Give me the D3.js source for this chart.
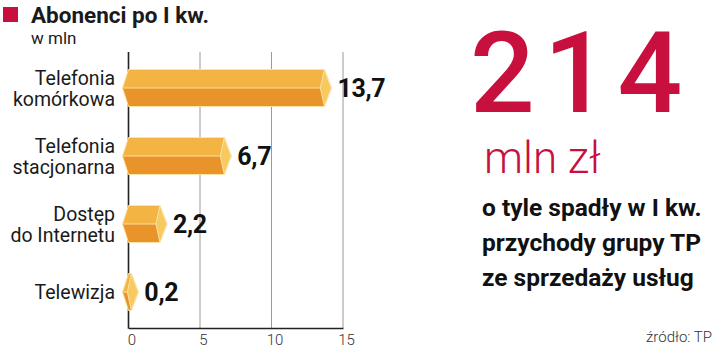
<!DOCTYPE html>
<html lang="pl">
<head>
<meta charset="UTF-8">
<title>Abonenci po I kw.</title>
<script src="https://d3js.org/d3.v7.min.js"></script>
<style>
    body { margin: 0; background: #fff; }
    svg { display: block; font-family: Roboto, "Noto Sans", sans-serif; }
</style>
</head>
<body>
<svg id="chart"></svg>
<script>
// data
var categories = ["Telefonia\nkomórkowa", "Telefonia\nstacjonarna", "Dostęp\ndo Internetu", "Telewizja"];
var values = [13.7, 6.7, 2.2, 0.2];
var valueLabels = ["13,7", "6,7", "2,2", "0,2"];
var tickValues = [0, 5, 10, 15];

var red = "#c8103e";
var W = 720, H = 351;

var svg = d3.select("#chart").attr("width", W).attr("height", H);

// title block
svg.append("rect").attr("x", 3).attr("y", 7).attr("width", 15).attr("height", 15).attr("fill", red);
svg.append("text").attr("x", 31).attr("y", 23)
    .attr("font-size", 22.5).attr("font-weight", 700).attr("fill", "#1a1a1a")
    .text("Abonenci po I kw.");
svg.append("text").attr("x", 31).attr("y", 44)
    .attr("font-size", 17).attr("fill", "#1a1a1a")
    .text("w mln");

// scales
var x = d3.scaleLinear().domain([0, 15]).range([128.5, 343]);
var y = d3.scaleBand().domain(categories).range([54, 326])
    .paddingInner(0.456).paddingOuter(0.228);

var top0 = 52, bottom0 = 328;

// grid lines
svg.append("g").selectAll("line")
    .data(tickValues.slice(1))
    .enter().append("line")
    .attr("x1", d => x(d)).attr("x2", d => x(d))
    .attr("y1", top0).attr("y2", bottom0)
    .attr("stroke", "#9a9a9a").attr("stroke-width", 1);

// bottom axis
var xAxis = svg.append("g")
    .attr("transform", "translate(0," + bottom0 + ")")
    .call(d3.axisBottom(x).tickValues(tickValues).tickSize(0).tickPadding(6));
xAxis.select(".domain").attr("stroke", "#222").attr("stroke-width", 1.5);
xAxis.selectAll("text")
    .attr("font-size", 15).attr("font-weight", 300).attr("fill", "#333")
    .attr("font-family", "Roboto, sans-serif")
    .attr("dx", 3);

// vertical axis line
svg.append("line")
    .attr("x1", x(0)).attr("x2", x(0))
    .attr("y1", top0).attr("y2", bottom0 + 0.75)
    .attr("stroke", "#222").attr("stroke-width", 1.6);

// bars
var bars = svg.append("g").selectAll("g")
    .data(categories)
    .enter().append("g");

var bw = y.bandwidth();
bars.each(function(c, i) {
    var g = d3.select(this);
    var t = y(c), b = t + bw, m = t + bw / 2;
    var x0 = x(0), xv = x(values[i]);
    // upper face
    g.append("path")
        .attr("d", "M" + (x0 - 6) + "," + m + "L" + x0 + "," + t + "L" + xv + "," + t + "L" + xv + "," + m + "Z")
        .attr("fill", "#f3b443");
    // lower face
    g.append("path")
        .attr("d", "M" + (x0 - 6) + "," + m + "L" + xv + "," + m + "L" + xv + "," + b + "L" + x0 + "," + b + "Z")
        .attr("fill", "#e8942a");
    // middle highlight
    g.append("line")
        .attr("x1", x0 - 5).attr("x2", xv).attr("y1", m).attr("y2", m)
        .attr("stroke", "#fbe0a0").attr("stroke-width", 1.2);
    // end cap
    g.append("path")
        .attr("d", "M" + xv + "," + t + "L" + (xv + 7) + "," + m + "L" + xv + "," + b + "L" + (xv - 4) + "," + m + "Z")
        .attr("fill", "#f7c95e").attr("stroke", "#fbe3a6").attr("stroke-width", 1);
    // outline
    g.append("path")
        .attr("d", "M" + (x0 - 6) + "," + m + "L" + x0 + "," + t + "L" + xv + "," + t + "L" + (xv + 7) + "," + m + "L" + xv + "," + b + "L" + x0 + "," + b + "Z")
        .attr("fill", "none").attr("stroke", "#fbe3a6").attr("stroke-width", 1);
});

// value labels
svg.append("g").selectAll("text")
    .data(categories)
    .enter().append("text")
    .attr("x", (d, i) => x(values[i]) + 13)
    .attr("y", d => y(d) + bw / 2 + 9)
    .attr("font-size", 25).attr("font-weight", 700).attr("fill", "#111")
    .attr("letter-spacing", -0.3)
    .text((d, i) => valueLabels[i]);

// category labels, one text per line
svg.append("g").selectAll("g")
    .data(categories)
    .enter().append("g")
    .each(function(d) {
        var lines = d.split("\n");
        var mid = y(d) + bw / 2;
        var g = d3.select(this);
        lines.forEach(function(l, k) {
            g.append("text")
                .attr("x", 115)
                .attr("y", lines.length > 1 ? mid - 3 + k * 21 : mid + 7)
                .attr("text-anchor", "end")
                .attr("font-size", 19.5).attr("fill", "#1a1a1a")
                .text(l);
        });
    });

// right side text
svg.append("text").attr("x", 470).attr("y", 112)
    .attr("font-size", 114).attr("font-weight", 500).attr("fill", red)
    .attr("letter-spacing", 9)
    .text("214");
svg.append("text").attr("x", 484).attr("y", 173)
    .attr("font-size", 44).attr("font-weight", 300).attr("fill", red)
    .text("mln zł");
var sub = ["o tyle spadły w I kw.", "przychody grupy TP", "ze sprzedaży usług"];
svg.append("g").selectAll("text")
    .data(sub)
    .enter().append("text")
    .attr("x", 482).attr("y", (d, i) => 216 + i * 35)
    .attr("font-size", 24.5).attr("font-weight", 700).attr("fill", "#111")
    .text(d => d);
svg.append("text").attr("x", 712).attr("y", 342)
    .attr("text-anchor", "end")
    .attr("font-size", 15).attr("font-weight", 300).attr("fill", "#333")
    .text("źródło: TP");
</script>
</body>
</html>
